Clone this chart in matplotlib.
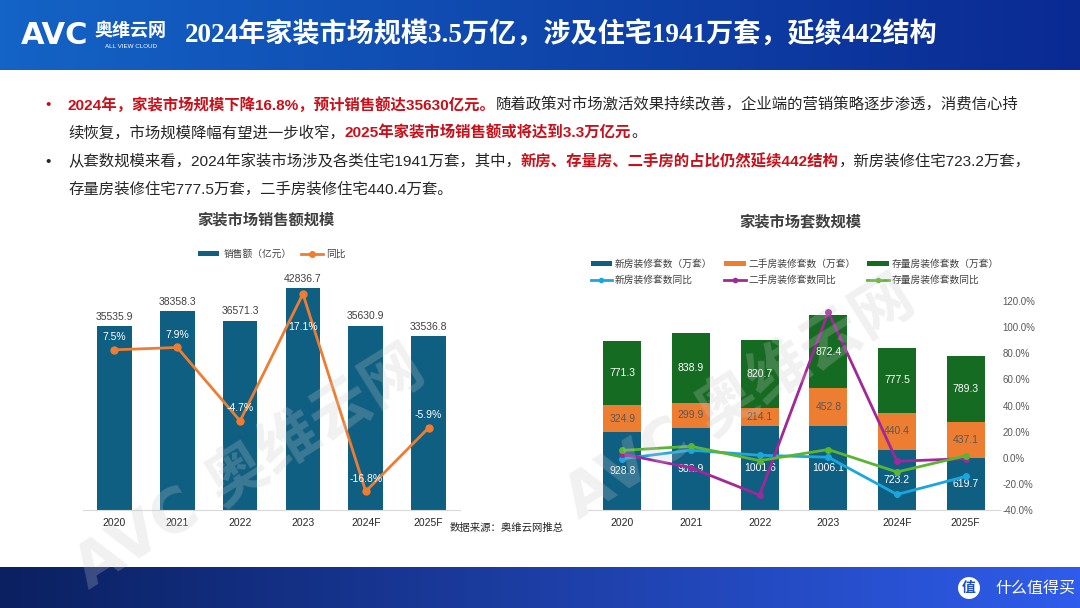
#!/usr/bin/env python3
"""AVC slide: home decoration market size and housing unit counts."""
import numpy as np
import matplotlib
matplotlib.use("Agg")
import matplotlib.pyplot as plt
from matplotlib.lines import Line2D
from matplotlib.patches import Patch, Ellipse

plt.rcParams["font.family"] = ["Liberation Sans", "Noto Sans CJK SC", "DejaVu Sans"]

# ---- data -------------------------------------------------------------
years = ["2020", "2021", "2022", "2023", "2024F", "2025F"]

sales = [35535.9, 38358.3, 36571.3, 42836.7, 35630.9, 33536.8]
sales_yoy = [7.5, 7.9, -4.7, 17.1, -16.8, -5.9]

new_units = [928.8, 982.9, 1001.6, 1006.1, 723.2, 619.7]
second_units = [324.9, 299.9, 214.1, 452.8, 440.4, 437.1]
stock_units = [771.3, 838.9, 820.7, 872.4, 777.5, 789.3]

new_yoy = [-0.8, 5.8, 1.9, 0.4, -28.1, -14.3]
second_yoy = [2.8, -7.7, -28.6, 111.5, -2.7, -0.7]
stock_yoy = [5.6, 8.8, -2.2, 6.3, -10.9, 1.5]

header_title = "2024年家装市场规模3.5万亿，涉及住宅1941万套，延续442结构"

RED = "#C8101A"
DARK = "#262626"
BAR_BLUE = "#0E5F82"
ORANGE = "#ED7D31"
GREEN = "#166B22"

W, H = 1080, 608
fig = plt.figure(figsize=(W / 100, H / 100), dpi=100)
fig.patch.set_facecolor("white")


def px(x, y):
    return x / W, 1 - y / H


def rect(x0, y0, x1, y1):
    return [x0 / W, 1 - y1 / H, (x1 - x0) / W, (y1 - y0) / H]


# ---- header / footer bands -------------------------------------------
def gradient_band(box, c_left, c_right):
    ax = fig.add_axes(box)
    c0 = np.array(matplotlib.colors.to_rgb(c_left))
    c1 = np.array(matplotlib.colors.to_rgb(c_right))
    t = np.linspace(0, 1, 256)[None, :, None]
    img = c0 * (1 - t) + c1 * t
    ax.imshow(img, aspect="auto", extent=[0, 1, 0, 1])
    ax.set_axis_off()
    return ax


gradient_band(rect(0, 0, W, 70), "#1463C6", "#0A2A92")
gradient_band(rect(0, 567, W, H), "#0A2060", "#2F5CEA")

fig.text(*px(21, 36), "AVC", color="white", fontsize=22, fontweight="bold",
         family="DejaVu Sans", va="center")
fig.text(*px(94, 30), "奥维云网", color="white", fontsize=13, fontweight="bold",
         family=["Noto Sans CJK SC"], va="center")
fig.text(*px(131, 46), "ALL VIEW CLOUD", color="white", fontsize=4.5,
         ha="center", va="center")
fig.text(*px(185, 35), header_title, color="white", fontsize=19.5, fontweight="bold",
         family=["Liberation Serif", "Noto Sans CJK SC"], va="center")

fig.patches.append(Ellipse(px(969, 588), 22 / W, 22 / H, transform=fig.transFigure,
                           facecolor="white", edgecolor="none"))
fig.text(*px(969, 588), "值", color="#1F4FCF", fontsize=10, fontweight="bold",
         ha="center", va="center", family=["Noto Sans CJK SC"])
fig.text(*px(1075, 588), "什么值得买", color="white", fontsize=11.5,
         ha="right", va="center", family=["Noto Sans CJK SC"])

# ---- bullet text -------------------------------------------------------
renderer = fig.canvas.get_renderer()


def draw_runs(x, y, runs, size=11.1):
    fx, fy = px(x, y)
    for txt, color, bold in runs:
        t = fig.text(fx, fy, txt, color=color, fontsize=size,
                     fontweight="bold" if bold else "normal", va="center")
        bb = t.get_window_extent(renderer)
        fx += bb.width / W


fig.text(*px(45, 105), "•", color=RED, fontsize=11, va="center")
fig.text(*px(45, 162), "•", color=DARK, fontsize=11, va="center")
draw_runs(68, 105, [("2024年，家装市场规模下降16.8%，预计销售额达35630亿元。", RED, True),
                    ("随着政策对市场激活效果持续改善，企业端的营销策略逐步渗透，消费信心持", DARK, False)])
draw_runs(68, 133, [("续恢复，市场规模降幅有望进一步收窄，", DARK, False),
                    ("2025年家装市场销售额或将达到3.3万亿元", RED, True),
                    ("。", DARK, False)])
draw_runs(68, 162, [("从套数规模来看，2024年家装市场涉及各类住宅1941万套，其中，", DARK, False),
                    ("新房、存量房、二手房的占比仍然延续442结构", RED, True),
                    ("，新房装修住宅723.2万套，", DARK, False)])
draw_runs(68, 190, [("存量房装修住宅777.5万套，二手房装修住宅440.4万套。", DARK, False)])

# ---- left chart: sales --------------------------------------------------
x = np.arange(len(years))
ax1 = fig.add_axes(rect(83, 277, 460, 510))
ax1.bar(x, sales, width=0.55, color=BAR_BLUE, zorder=2)
ax1.set_xlim(-0.5, 5.5)
ax1.set_ylim(0, 45000)
ax1.set_xticks(x)
ax1.set_xticklabels(years, fontsize=7.5, color=DARK)
ax1.set_yticks([])
for s in ["top", "right", "left"]:
    ax1.spines[s].set_visible(False)
ax1.spines["bottom"].set_color("#D9D9D9")
ax1.tick_params(axis="x", length=0, pad=6)
for xi, v in zip(x, sales):
    ax1.annotate(f"{v:.1f}", (xi, v), xytext=(0, 3), textcoords="offset points",
                 ha="center", va="bottom", fontsize=7.5, color="#404040")

ax1b = ax1.twinx()
ax1b.plot(x, sales_yoy, color=ORANGE, lw=2, marker="o", ms=5, zorder=3)
ax1b.set_ylim(-20, 20)
ax1b.set_axis_off()
for xi, v in zip(x, sales_yoy):
    off = -24 if v > 15 else 9
    ax1b.annotate(f"{v:.1f}%", (xi, v), xytext=(0, off), textcoords="offset points",
                  ha="center", va="center", fontsize=7.5, color="white")

fig.text(*px(266, 220), "家装市场销售额规模", fontsize=11, fontweight="bold",
         color="#404040", ha="center", va="center")
h1 = [Patch(facecolor=BAR_BLUE), Line2D([], [], color=ORANGE, lw=2, marker="o", ms=4)]
fig.legend(h1, ["销售额（亿元）", "同比"], loc="center", bbox_to_anchor=px(272, 254),
           ncol=2, frameon=False, fontsize=7, handlelength=2.2, columnspacing=1.0,
           handleheight=0.5, handletextpad=0.4, labelcolor="#404040")

# ---- right chart: units -------------------------------------------------
ax2 = fig.add_axes(rect(588, 301, 1000, 510))
ax2.bar(x, new_units, width=0.55, color=BAR_BLUE, zorder=2)
ax2.bar(x, second_units, width=0.55, bottom=new_units, color=ORANGE, zorder=2)
base3 = [a + b for a, b in zip(new_units, second_units)]
ax2.bar(x, stock_units, width=0.55, bottom=base3, color=GREEN, zorder=2)
ax2.set_xlim(-0.5, 5.5)
ax2.set_ylim(0, 2500)
ax2.set_xticks(x)
ax2.set_xticklabels(years, fontsize=7.5, color=DARK)
ax2.set_yticks([])
for s in ["top", "right", "left"]:
    ax2.spines[s].set_visible(False)
ax2.spines["bottom"].set_color("#D9D9D9")
ax2.tick_params(axis="x", length=0, pad=6)
for xi, a, b, c in zip(x, new_units, second_units, stock_units):
    ax2.text(xi, a / 2, f"{a:.1f}", ha="center", va="center", fontsize=7.5, color="white", zorder=4)
    ax2.text(xi, a + b / 2, f"{b:.1f}", ha="center", va="center", fontsize=7.5, color="#595959", zorder=4)
    ax2.text(xi, a + b + c / 2, f"{c:.1f}", ha="center", va="center", fontsize=7.5, color="white", zorder=4)

ax2b = ax2.twinx()
ax2b.plot(x, new_yoy, color="#1AA7E0", lw=2, marker="o", ms=4, zorder=3)
ax2b.plot(x, second_yoy, color="#A0289A", lw=2, marker="o", ms=4, zorder=3)
ax2b.plot(x, stock_yoy, color="#5BB531", lw=2, marker="o", ms=4, zorder=3)
ax2b.set_ylim(-40, 120)
ax2b.set_yticks(np.arange(-40, 121, 20))
ax2b.set_yticklabels([f"{t:.1f}%" for t in np.arange(-40, 121, 20)], fontsize=7, color="#595959")
ax2b.tick_params(axis="y", length=0, pad=2)
for s in ["top", "right", "left", "bottom"]:
    ax2b.spines[s].set_visible(False)

fig.text(*px(800, 222), "家装市场套数规模", fontsize=11, fontweight="bold",
         color="#404040", ha="center", va="center")
h2 = [Patch(facecolor=BAR_BLUE), Line2D([], [], color="#1AA7E0", lw=2, marker="o", ms=3),
      Patch(facecolor=ORANGE), Line2D([], [], color="#A0289A", lw=2, marker="o", ms=3),
      Patch(facecolor=GREEN), Line2D([], [], color="#5BB531", lw=2, marker="o", ms=3)]
l2 = ["新房装修套数（万套）", "新房装修套数同比", "二手房装修套数（万套）", "二手房装修套数同比",
      "存量房装修套数（万套）", "存量房装修套数同比"]
fig.legend(h2, l2, loc="center left", bbox_to_anchor=px(582, 272), ncol=3,
           frameon=False, fontsize=7, handlelength=2.2, columnspacing=1.2,
           handleheight=0.5, handletextpad=0.3, labelspacing=0.6, labelcolor="#404040")

fig.text(*px(450, 528), "数据来源：奥维云网推总", fontsize=7.5, color=DARK, va="center")

# ---- watermark ---------------------------------------------------------
for cx, cy in [(250, 470), (740, 400)]:
    fig.text(*px(cx, cy), "AVC 奥维云网", fontsize=44, fontweight="bold", color="#C8C8C8",
             alpha=0.25, rotation=32, ha="center", va="center", zorder=10,
             family=["DejaVu Sans", "Noto Sans CJK SC"])

fig.savefig("out.png", dpi=100)
